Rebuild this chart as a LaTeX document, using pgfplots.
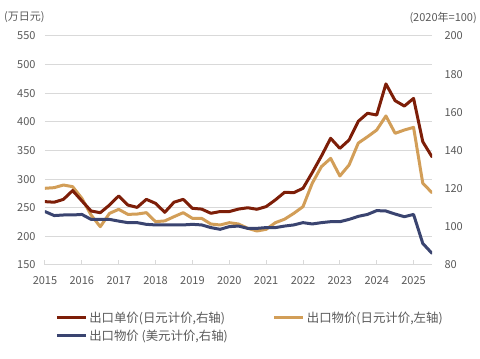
\documentclass[border=0pt]{standalone}
\usepackage{pgfplots}
\pgfplotsset{compat=1.18}
\usepackage{pgfplotstable}
\usepackage{fontspec}
\setmainfont{Noto Sans CJK SC}
\definecolor{cbrown}{RGB}{125,30,8}
\definecolor{cgold}{RGB}{210,158,88}
\definecolor{cblue}{RGB}{58,68,112}
\definecolor{tgray}{RGB}{89,89,89}
\definecolor{ggray}{RGB}{217,217,217}

\pgfplotstableread{
x       unitjpy  pricejpy  priceusd
2015.00 113.2 284.0 108.0
2015.25 112.9 285.1 105.9
2015.50 114.4 289.7 106.2
2015.75 119.0 286.8 106.2
2016.00 113.6 266.5 106.5
2016.25 108.3 237.3 103.9
2016.50 107.4 216.9 103.9
2016.75 111.4 240.2 103.9
2017.00 116.2 247.2 103.0
2017.25 111.4 238.4 102.2
2017.50 110.2 239.0 102.2
2017.75 114.4 241.4 101.3
2018.00 112.3 225.7 101.0
2018.25 107.6 227.0 101.0
2018.50 112.9 234.4 101.0
2018.75 114.4 241.4 101.0
2019.00 109.7 231.5 101.3
2019.25 109.3 231.5 101.0
2019.50 107.1 221.6 99.6
2019.75 108.0 219.9 98.7
2020.00 108.0 223.9 100.1
2020.25 109.3 221.6 100.4
2020.50 110.0 214.1 99.2
2020.75 109.2 209.4 99.2
2021.00 110.6 212.3 99.6
2021.25 114.1 223.9 99.6
2021.50 118.1 230.0 100.4
2021.75 117.9 240.2 101.0
2022.00 120.2 251.9 102.2
2022.25 128.4 292.7 101.5
2022.50 137.1 321.8 102.2
2022.75 146.4 336.3 102.7
2023.00 141.1 305.5 102.7
2023.25 145.5 324.7 103.9
2023.50 155.3 363.0 105.5
2023.75 159.5 374.0 106.5
2024.00 158.6 385.8 108.5
2024.25 174.9 410.3 108.3
2024.50 166.1 380.0 106.7
2024.75 163.3 385.8 105.3
2025.00 167.3 390.4 106.5
2025.25 144.6 292.7 91.3
2025.50 136.7 276.3 86.1
}\datatable

\begin{document}
\begin{tikzpicture}[x=1pt,y=1pt]
\path[use as bounding box] (0,0) rectangle (480,359);
\pgfplotsset{
  base/.style={
    scale only axis, width=387pt, height=229pt,
    at={(45pt,94pt)}, anchor=south west,
    xmin=2015, xmax=2025.5,
    xtick={2015,2016,...,2025},
    /pgf/number format/assume math mode=true,
    /pgf/number format/1000 sep={},
    ticklabel style={font=\fontsize{11}{13}\selectfont, text=tgray},
    y axis line style={draw=none},
    ytick style={draw=none},
    every axis plot/.append style={line width=3pt, line join=round, line cap=round},
  },
}
\begin{axis}[base,
  ymin=150, ymax=550, ytick={150,200,...,550},
  axis x line*=bottom,
  axis y line*=left,
  x axis line style={ggray, line width=1pt, -},
  xtick style={ggray, line width=1pt},
  tick align=inside, major tick length=5pt,
  xtick pos=bottom,
  ymajorgrids, grid style={ggray, line width=1pt},
  xticklabel style={yshift=-8pt},
  yticklabel style={xshift=-6pt},
]
\addplot[cgold, no markers] table[x=x, y=pricejpy] {\datatable};
\end{axis}
\begin{axis}[base,
  ymin=80, ymax=200, ytick={80,100,...,200},
  axis x line=none,
  axis y line*=right,
  yticklabel style={xshift=9pt},
  legend columns=2,
  legend cell align=left,
  legend style={at={(0.026,-0.2)}, anchor=north west, draw=none, fill=none,
    font=\fontsize{12.4}{14}\selectfont, text=tgray,
    inner xsep=0pt, inner ysep=0pt, row sep=4pt,
    nodes={inner xsep=2pt, inner ysep=1pt},
    /tikz/every even column/.append style={column sep=43pt}},
  legend image code/.code={\draw[#1, line width=3pt, line cap=butt] (0pt,0pt) -- (29pt,0pt);},
]
\addplot[cbrown, no markers] table[x=x, y=unitjpy] {\datatable};
\addlegendentry{出口单价(日元计价,右轴)}
\addlegendimage{cgold}
\addlegendentry{出口物价(日元计价,左轴)}
\addplot[cblue, no markers] table[x=x, y=priceusd] {\datatable};
\addlegendentry{出口物价 (美元计价,右轴)}
\end{axis}
\node[anchor=west, inner sep=0pt, text=tgray, font=\fontsize{11}{13}\selectfont] at (4,342) {(万日元)};
\node[anchor=east, inner sep=0pt, text=tgray, font=\fontsize{11}{13}\selectfont] at (477,341) {(2020年=100)};
\end{tikzpicture}
\end{document}
